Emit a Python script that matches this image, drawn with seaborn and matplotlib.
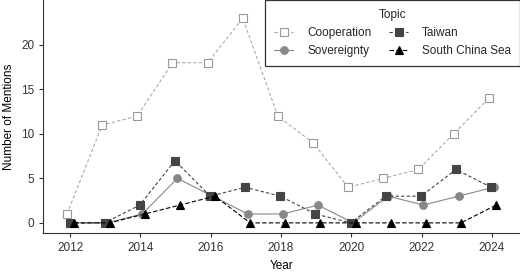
import pandas as pd
import matplotlib
matplotlib.use('Agg')
import matplotlib.pyplot as plt
import seaborn as sns

years = list(range(2012, 2025))
cooperation = [1, 11, 12, 18, 18, 23, 12, 9, 4, 5, 6, 10, 14]
sovereignty = [0, 0, 1, 5, 3, 1, 1, 2, 0, 3, 2, 3, 4]
taiwan = [0, 0, 2, 7, 3, 4, 3, 1, 0, 3, 3, 6, 4]
south_china_sea = [0, 0, 1, 2, 3, 0, 0, 0, 0, 0, 0, 0, 2]

topics = ['Cooperation', 'Sovereignty', 'Taiwan', 'South China Sea']
values = [cooperation, sovereignty, taiwan, south_china_sea]

df = pd.DataFrame({
    'year': years * len(topics),
    'topic': [t for t in topics for _ in years],
    'mentions': [v for vals in values for v in vals],
})

sns.set_style('white')
plt.rcParams['font.family'] = ['Liberation Sans', 'DejaVu Sans']

# look of each topic (dodge offset in years, like position_dodge)
styles = {
    'Cooperation': dict(color='#aaaaaa', ls=(0, (3, 2)), marker='s', mfc='white', mec='#999999', ms=6, off=-0.09),
    'Sovereignty': dict(color='#888888', ls='-', marker='o', mfc='#888888', mec='#888888', ms=5.5, off=0.05),
    'Taiwan': dict(color='#444444', ls=(0, (3, 2)), marker='s', mfc='#444444', mec='#444444', ms=5.5, off=-0.02),
    'South China Sea': dict(color='#000000', ls=(0, (4, 2)), marker='^', mfc='#000000', mec='#000000', ms=6, off=0.12),
}

fig, ax = plt.subplots(figsize=(5.2, 2.72), dpi=100)

for topic in topics:
    s = styles[topic]
    sub = df[df['topic'] == topic].copy()
    sub['x'] = sub['year'] + s['off']
    sns.lineplot(
        data=sub, x='x', y='mentions', ax=ax,
        color=s['color'], linestyle=s['ls'], linewidth=0.8,
        marker=s['marker'], markerfacecolor=s['mfc'], markeredgecolor=s['mec'],
        markeredgewidth=0.8, markersize=s['ms'], label=topic,
    )

ax.set_xlim(2011.23, 2024.8)
ax.set_ylim(-1.15, 25.05)
ax.set_xticks([2012, 2014, 2016, 2018, 2020, 2022, 2024])
ax.set_yticks([0, 5, 10, 15, 20])
ax.set_xlabel('Year', fontsize=8.5, color='black', labelpad=4)
ax.set_ylabel('Number of Mentions', fontsize=8.5, color='black')

for side in ['top', 'right']:
    ax.spines[side].set_visible(False)
for side in ['left', 'bottom']:
    ax.spines[side].set_color('#333333')
    ax.spines[side].set_linewidth(0.8)
ax.tick_params(axis='both', direction='out', length=3, width=0.8, color='#333333',
               labelsize=8.5, labelcolor='#333333', bottom=True, left=True)

leg = ax.legend(
    title='Topic', ncol=2, loc='upper right', bbox_to_anchor=(1.0, 1.0),
    borderaxespad=0.0, fontsize=8.5, title_fontsize=8.5, frameon=True, fancybox=False,
    handlelength=1.6, handletextpad=1.2, columnspacing=1.5, borderpad=0.75, labelspacing=0.5,
)
leg.get_frame().set_edgecolor('black')
leg.get_frame().set_linewidth(0.9)

fig.subplots_adjust(left=0.083, right=1.0, top=1.0, bottom=0.143)
fig.savefig('out.png', dpi=100)
